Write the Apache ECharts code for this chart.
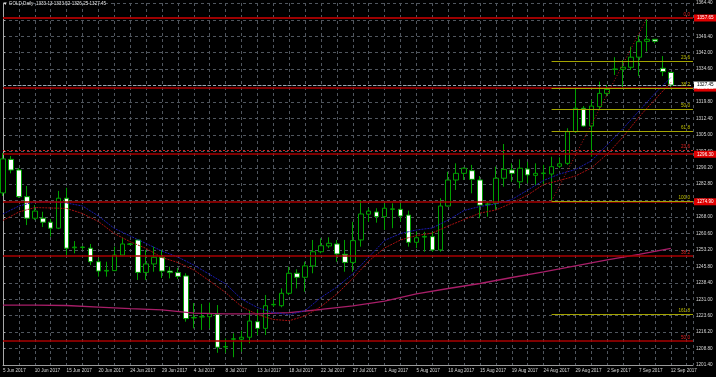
<!DOCTYPE html>
<html><head><meta charset="utf-8">
<script src="https://cdn.jsdelivr.net/npm/echarts@6/dist/echarts.min.js"></script>
<style>html,body{margin:0;padding:0;background:#000;overflow:hidden}#c{width:716px;height:377px}</style>
</head><body><div id="c"></div>
<script>
// ---- data ----
const titleText = 'GOLD,Daily  1333.13 1333.52 1326.25 1327.45';
const tickLabels = ['5 Jun 2017','10 Jun 2017','15 Jun 2017','20 Jun 2017','24 Jun 2017','29 Jun 2017','4 Jul 2017','8 Jul 2017','13 Jul 2017','18 Jul 2017','22 Jul 2017','27 Jul 2017','1 Aug 2017','5 Aug 2017','10 Aug 2017','15 Aug 2017','19 Aug 2017','24 Aug 2017','29 Aug 2017','2 Sep 2017','7 Sep 2017','12 Sep 2017'];
const opens = [1278.9,1294.0,1289.2,1277.2,1267.5,1267.5,1265.7,1263.0,1276.5,1254.2,1254.3,1254.0,1247.9,1243.7,1243.9,1250.9,1255.75,1257.7,1243.1,1246.9,1249.9,1243.7,1243.0,1241.5,1222.6,1223.0,1223.15,1224.2,1209.5,1213.0,1213.0,1213.9,1220.9,1217.9,1228.5,1228.1,1233.7,1242.7,1240.9,1246.0,1252.4,1255.0,1255.9,1251.25,1247.6,1257.7,1269.3,1270.3,1268.2,1271.5,1271.5,1268.9,1256.65,1259.0,1259.2,1253.2,1273.0,1284.7,1287.7,1288.9,1284.7,1273.7,1274.2,1285.5,1289.2,1283.9,1289.65,1286.8,1287.6,1287.4,1290.9,1292.2,1306.45,1317.0,1309.0,1317.7,1323.7,1334.5,1334.55,1335.45,1340.0,1347.15,1348.05,1335.0,1333.13];
const closes = [1294.2,1289.2,1277.2,1267.5,1270.7,1265.7,1263.0,1276.5,1254.0,1254.5,1254.5,1247.9,1243.7,1244.0,1250.9,1255.9,1255.9,1243.1,1246.9,1249.9,1243.7,1243.0,1241.3,1222.3,1222.8,1223.2,1224.4,1209.4,1209.7,1213.2,1213.9,1221.2,1217.9,1228.1,1228.7,1233.7,1242.7,1240.9,1246.0,1252.4,1255.1,1256.2,1251.4,1247.6,1257.4,1269.4,1270.7,1268.2,1272.0,1271.7,1268.5,1256.65,1258.7,1259.3,1253.2,1273.0,1284.7,1287.7,1290.0,1285.0,1273.4,1273.9,1285.5,1289.5,1287.7,1290.0,1287.0,1287.7,1287.85,1290.7,1292.0,1306.45,1317.0,1309.0,1318.0,1323.7,1325.5,1334.7,1335.45,1340.0,1347.0,1348.05,1347.15,1333.5,1327.45];
const lows = [1277.5,1287.7,1276.6,1264.4,1266.7,1263.5,1259.2,1262.6,1250.9,1251.7,1253.2,1246.4,1241.2,1241.2,1243.7,1250.7,1255.4,1239.7,1239.7,1243.4,1240.6,1240.4,1240.1,1220.9,1217.9,1217.2,1217.9,1206.9,1206.9,1204.9,1207.4,1211.2,1214.9,1214.9,1227.5,1227.4,1232.9,1235.9,1234.4,1242.7,1251.7,1254.0,1247.9,1243.4,1243.4,1254.7,1265.9,1265.5,1262.2,1263.0,1265.9,1254.7,1254.0,1252.4,1252.4,1252.4,1272.7,1280.2,1284.7,1278.7,1267.5,1268.2,1271.2,1281.7,1283.9,1281.0,1283.2,1282.45,1282.45,1275.25,1290.0,1291.5,1305.9,1308.6,1295.2,1316.2,1322.5,1332.0,1326.4,1334.2,1331.5,1342.5,1346.25,1331.5,1326.25];
const highs = [1296.9,1295.5,1290.1,1282.0,1273.4,1270.4,1267.1,1279.8,1281.2,1257.2,1255.0,1255.9,1249.6,1247.9,1254.7,1258.7,1256.3,1258.0,1253.2,1254.7,1253.2,1245.7,1245.1,1242.7,1229.3,1228.9,1229.5,1228.4,1213.4,1215.7,1216.8,1226.2,1226.2,1232.9,1230.7,1235.9,1245.7,1244.5,1247.9,1257.7,1258.45,1258.9,1257.7,1257.7,1265.9,1275.7,1272.0,1272.0,1274.2,1274.2,1274.2,1270.9,1261.4,1261.4,1261.4,1276.5,1288.4,1292.2,1290.4,1291.5,1286.5,1274.9,1290.7,1300.9,1292.2,1294.0,1292.9,1292.2,1291.5,1295.2,1294.9,1308.0,1326.4,1318.0,1320.7,1329.0,1327.5,1340.0,1338.7,1344.7,1350.0,1357.6,1348.2,1340.5,1333.52];
// moving averages read every 2nd bar (fast, slow) and every 4th bar (long)
const maFast = [1269.4,1273.0,1274.8,1274.9,1274.35,1273.0,1268.5,1262.9,1259.5,1256.1,1252.7,1250.0,1246.4,1242.15,1237.9,1231.1,1227.3,1225.0,1224.05,1225.9,1231.8,1236.5,1242.4,1250.0,1257.5,1260.6,1262.2,1263.1,1266.7,1271.0,1272.8,1273.9,1275.9,1280.2,1284.5,1287.4,1289.4,1293.3,1300.5,1307.9,1315.8,1323.65,1330.85];
const maSlow = [1266.5,1270.3,1272.3,1272.1,1271.9,1269.6,1266.0,1260.6,1256.9,1253.9,1249.8,1247.55,1244.2,1239.2,1234.05,1227.7,1224.1,1221.9,1221.35,1223.5,1227.7,1233.4,1240.35,1248.2,1254.1,1257.7,1259.7,1260.8,1264.0,1266.9,1269.8,1271.2,1274.35,1277.95,1282.7,1284.5,1286.5,1290.1,1296.4,1304.1,1313.1,1320.95,1328.6];
const maLong = [1228.4,1228.4,1228.2,1227.5,1226.8,1226.2,1224.8,1224.4,1224.4,1225.0,1226.4,1228.0,1230.2,1233.4,1235.85,1238.1,1240.8,1243.3,1246.0,1248.7,1251.2,1253.95];
const priceLines = [1357.65, 1326.1, 1296.3, 1274.9];
const bidPrice = 1327.45;
const redFibLabels = ['0.0','23.6','38.2','50.0'];
const redFibPrices = [1357.65, 1298.2, 1250.5, 1212.3];
const fibLabels = ['23.6','38.2','50.0','61.8','100.0','161.8'];
const fibPrices = [1338.2, 1326.2, 1316.45, 1306.7, 1275.25, 1224.3];
const fibLowBar = 69, fibHighBar = 81;

// ---- chart ----
const X_MAX = 86.79, Y_MIN = 1201.4, Y_MAX = 1364.4;
const FONT = 'Liberation Sans';
const FS = 4.6;
const GREEN = '#00a000';
const GRID = { color: '#50565e', type: [3, 3], width: 1 };

const candles = opens.map((o, i) => [i, o, closes[i], lows[i], highs[i]]);
const fastData = maFast.map((v, i) => [i * 2, v]);
const slowData = maSlow.map((v, i) => [i * 2, v]);
const longData = maLong.map((v, i) => [i * 4, v]);

const boxLabel = (txt, bg, fg) => ({ show: true, position: 'end', distance: 1, formatter: txt,
  backgroundColor: bg, color: fg, fontSize: FS, fontFamily: FONT, padding: [1, 3, 1, 3] });
const fibLabel = (txt, col) => ({ show: true, position: 'insideEndTop', distance: [3, 1], formatter: txt,
  color: col, fontSize: FS, fontFamily: FONT });

const mlData = [];
priceLines.forEach(p => mlData.push({ yAxis: p, lineStyle: { color: '#a80000', width: 1.7, type: 'solid' },
  label: boxLabel(p.toFixed(2), '#e00000', '#ffffff') }));
redFibPrices.forEach((p, i) => mlData.push({ yAxis: p,
  lineStyle: i === 1 ? { color: '#d02020', width: 1, type: [2, 2] } : { color: '#a80000', width: 1.7, type: 'solid' },
  label: fibLabel(redFibLabels[i], '#e02020') }));
fibPrices.forEach((p, i) => mlData.push([
  { coord: [fibLowBar, p], lineStyle: { color: '#a4a400', width: 1, type: 'solid' }, label: fibLabel(fibLabels[i], '#c0c000') },
  { coord: [X_MAX, p] }]));
mlData.push({ yAxis: bidPrice, lineStyle: { color: '#9aa6b2', width: 1, type: [3, 2] },
  label: boxLabel(bidPrice.toFixed(2), '#ffffff', '#000000') });

const chart = echarts.init(document.getElementById('c'), null, { renderer: 'canvas' });
chart.setOption({
  backgroundColor: '#000000',
  animation: false,
  textStyle: { fontFamily: FONT },
  grid: { left: -1.3, right: 23, top: 3, bottom: 12, containLabel: false },
  xAxis: [
    { type: 'value', min: 0, max: X_MAX, interval: 2,
      axisLine: { show: false }, axisTick: { show: false }, axisLabel: { show: false },
      splitLine: { show: true, lineStyle: GRID } },
    { type: 'value', min: 0, max: X_MAX, interval: 4, position: 'bottom',
      axisLine: { show: true, lineStyle: { color: '#9a9a9a', width: 1 } },
      axisTick: { show: false }, splitLine: { show: false },
      axisLabel: { show: true, showMaxLabel: false, align: 'left', margin: 3, color: '#d8d8d8', fontSize: FS, fontFamily: FONT,
        formatter: v => (Math.abs(v / 4 - Math.round(v / 4)) < 1e-6 ? (tickLabels[Math.round(v / 4)] || '') : '') } }
  ],
  yAxis: {
    type: 'value', position: 'right', min: Y_MIN, max: Y_MAX, interval: 7.4, scale: true,
    axisLine: { show: true, lineStyle: { color: '#a8a8a8', width: 1 } },
    axisTick: { show: true, length: 2, lineStyle: { color: '#a8a8a8' } },
    axisLabel: { show: true, margin: 3, color: '#d8d8d8', fontSize: FS, fontFamily: FONT,
      formatter: v => (v < Y_MAX && Y_MAX - v < 1) ? '' : v.toFixed(2) },
    splitLine: { show: true, lineStyle: GRID }
  },
  graphic: [{ type: 'text', left: 3, top: 1, z: 100,
    style: { text: '\u25BC ' + titleText, fill: '#e0e0e0', font: FS + 'px ' + FONT } }],
  series: [
    { type: 'candlestick', xAxisIndex: 0, yAxisIndex: 0, data: candles, encode: { x: 0, y: [1, 2, 3, 4] },
      barWidth: 5, z: 2,
      itemStyle: { color: '#000000', color0: '#ffffff', borderColor: GREEN, borderColor0: GREEN, borderColorDoji: GREEN, borderWidth: 1 } },
    { type: 'line', xAxisIndex: 0, data: longData, showSymbol: false, z: 3, silent: true,
      lineStyle: { color: '#a81e68', width: 1.3 },
      markLine: { silent: true, symbol: ['none', 'none'], animation: false, precision: 2, data: mlData } },
    { type: 'line', xAxisIndex: 0, data: slowData, showSymbol: false, z: 4, silent: true,
      lineStyle: { color: '#a81010', width: 1, type: [2, 1] } },
    { type: 'line', xAxisIndex: 0, data: fastData, showSymbol: false, z: 4, silent: true,
      lineStyle: { color: '#1a1ab0', width: 1, type: [2, 1] } },
    { type: 'line', xAxisIndex: 0, data: [[fibLowBar, lows[fibLowBar]], [fibHighBar, highs[fibHighBar]]], showSymbol: false, z: 4, silent: true,
      lineStyle: { color: '#c01818', width: 1, type: [1, 2] } }
  ]
});
</script></body></html>
